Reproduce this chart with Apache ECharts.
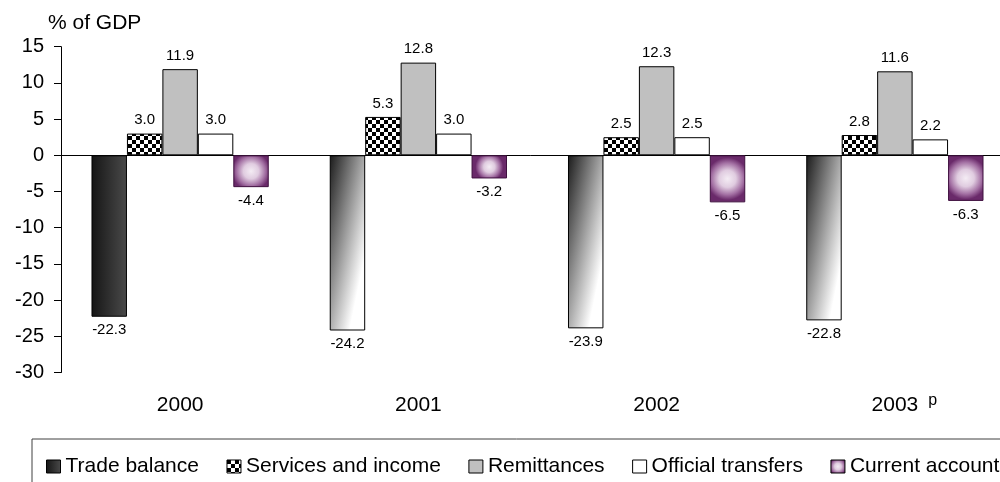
<!DOCTYPE html>
<html>
<head>
<meta charset="utf-8">
<script src="https://cdn.jsdelivr.net/npm/echarts@6/dist/echarts.min.js"></script>
<style>
html,body{margin:0;padding:0;background:#fff;}
#chart{width:1000px;height:482px;}
</style>
</head>
<body>
<div id="chart"></div>
<script>
var categories = ['2000', '2001', '2002', '2003'];
var categoryNotes = ['', '', '', 'p'];
var tradeBalance = [-22.3, -24.2, -23.9, -22.8];
var servicesIncome = [3.0, 5.3, 2.5, 2.8];
var remittances = [11.9, 12.8, 12.3, 11.6];
var officialTransfers = [3.0, 3.0, 2.5, 2.2];
var currentAccount = [-4.4, -3.2, -6.5, -6.3];
var yTicks = {min: -30, max: 15, interval: 5};

var FONT = '"Liberation Sans", Arial, sans-serif';

// checkerboard pattern
var tile = document.createElement('canvas');
tile.width = 8; tile.height = 8;
var g = tile.getContext('2d');
g.fillStyle = '#fff'; g.fillRect(0, 0, 8, 8);
g.fillStyle = '#000'; g.fillRect(0, 0, 4, 4); g.fillRect(4, 4, 4, 4);
var checker = {image: tile, repeat: 'repeat'};

var darkGrad = new echarts.graphic.LinearGradient(0, 0, 1, 0, [
  {offset: 0, color: '#151515'}, {offset: 1, color: '#4a4a4a'}
]);
var diagGrad = new echarts.graphic.LinearGradient(0, 0, 1.9, 0.08, [
  {offset: 0, color: '#1a1a1a'}, {offset: 0.8, color: '#ffffff'}, {offset: 1, color: '#ffffff'}
]);
var purpleGrad = new echarts.graphic.RadialGradient(0.5, 0.5, 0.6, [
  {offset: 0, color: '#f4ecf4'}, {offset: 0.4, color: '#e0cce0'},
  {offset: 0.75, color: '#a370a3'}, {offset: 1, color: '#6a2a6a'}
]);

function labelFor(v) {
  return {position: v < 0 ? 'bottom' : 'top'};
}
function items(arr, styleFn) {
  return arr.map(function (v, i) {
    var o = {value: v, label: labelFor(v)};
    if (styleFn) { var s = styleFn(i); if (s) o.itemStyle = s; }
    return o;
  });
}

var baseLabel = {
  show: true, fontSize: 15, fontFamily: FONT, color: '#000', distance: 6,
  formatter: function (p) { return p.value.toFixed(1); }
};

function bar(name, arr, style, styleFn) {
  return {
    name: name, type: 'bar', xAxisIndex: 0, yAxisIndex: 0,
    barGap: '0%', barCategoryGap: '25.6%',
    itemStyle: Object.assign({borderColor: '#000', borderWidth: 1}, style),
    label: baseLabel,
    emphasis: {disabled: true},
    data: items(arr, styleFn)
  };
}

var chart = echarts.init(document.getElementById('chart'), null, {renderer: 'canvas'});
chart.setOption({
  animation: false,
  backgroundColor: '#fff',
  title: {
    text: '% of GDP', left: 48, top: 13, padding: 0,
    textStyle: {fontSize: 21, fontWeight: 'normal', fontFamily: FONT, color: '#000'}
  },
  grid: {left: 61, width: 953, top: 46.7, height: 325.8, containLabel: false, outerBoundsMode: 'none'},
  legend: {
    left: 32, top: 439, width: 1400, padding: [17, 20, 20, 14],
    borderColor: '#404040', borderWidth: 1,
    itemWidth: 14, itemHeight: 13, itemGap: 27.5,
    icon: 'rect',
    itemStyle: {borderColor: '#000', borderWidth: 1},
    textStyle: {fontSize: 21, fontFamily: FONT, color: '#000'},
    data: ['Trade balance', 'Services and income', 'Remittances', 'Official transfers', 'Current account']
  },
  xAxis: [{
    type: 'category', data: categories,
    axisLine: {show: true, onZero: true, lineStyle: {color: '#000', width: 1}},
    axisTick: {show: false}, axisLabel: {show: false}, splitLine: {show: false}
  }, {
    type: 'category', data: categories, position: 'bottom',
    axisLine: {show: false, onZero: false}, axisTick: {show: false}, splitLine: {show: false},
    axisLabel: {
      show: true, margin: 20, fontSize: 21, lineHeight: 25, fontFamily: FONT, color: '#000',
      formatter: function (v, i) {
        return categoryNotes[i] ? '{s| }' + v + '{g| }{p|' + categoryNotes[i] + '}' : v;
      },
      rich: {
        s: {width: 19, fontSize: 16, lineHeight: 8},
        g: {width: 10, fontSize: 16, lineHeight: 8},
        p: {fontSize: 16, fontFamily: FONT, color: '#000', lineHeight: 8, verticalAlign: 'top'}
      }
    }
  }],
  yAxis: {
    type: 'value', min: yTicks.min, max: yTicks.max, interval: yTicks.interval,
    axisLine: {show: true, lineStyle: {color: '#000', width: 1}},
    axisTick: {show: true, length: 7, lineStyle: {color: '#000'}},
    splitLine: {show: false},
    axisLabel: {margin: 17, fontSize: 20, fontFamily: FONT, color: '#000'}
  },
  series: [
    bar('Trade balance', tradeBalance, {color: darkGrad}, function (i) {
      return i === 0 ? null : {color: diagGrad, borderColor: '#000', borderWidth: 1};
    }),
    bar('Services and income', servicesIncome, {color: checker}),
    bar('Remittances', remittances, {color: '#c0c0c0'}),
    bar('Official transfers', officialTransfers, {color: '#ffffff'}),
    bar('Current account', currentAccount, {color: purpleGrad, borderColor: '#3f103f'})
  ]
});
</script>
</body>
</html>
